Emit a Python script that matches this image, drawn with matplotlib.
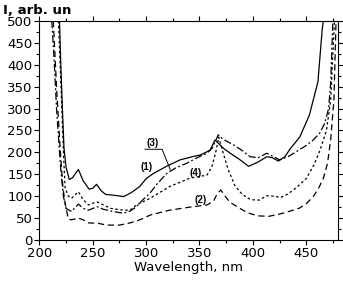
import numpy as np
import matplotlib.pyplot as plt

plt.rcParams['font.family'] = ['DejaVu Sans']

# (1) solid
wl_1 = [218.8, 220, 221.5, 223, 225, 228, 231, 236.5, 241, 246.5, 250, 253.5, 258, 262, 270, 279,
        286, 294, 300, 307, 319, 332, 345, 351, 360, 364.5, 368, 372.5, 380, 388, 396, 405, 413,
        418, 424, 430, 435, 444, 453, 461, 465, 467]
int_1 = [500, 400, 300, 210, 165, 138, 142, 161, 135, 116, 118, 127, 112, 104, 102, 99,
         108, 122, 140, 152, 168, 183, 191, 194, 205, 228, 220, 209, 196, 183, 168, 178, 190,
         188, 180, 190, 208, 235, 285, 361, 480, 520]

# (2) dashed
wl_2 = [213, 216, 219.5, 222, 224, 227, 230, 236.5, 241, 246, 255, 263, 275, 285, 294, 304, 322,
        341, 357, 363, 367, 370, 374, 378.5, 388, 395, 405, 415, 425, 435, 444, 451, 457, 462, 466,
        470, 473, 476, 478]
int_2 = [500, 350, 205, 120, 85, 48, 46, 50, 46, 39, 38, 34, 34, 39, 46, 57, 68,
         75, 80, 88, 107, 114, 100, 86, 72, 62, 55, 54, 59, 66, 73, 85, 100, 120, 140,
         175, 230, 320, 500]

# (3) dash-dot
wl_3 = [211.6, 214, 216, 218, 220, 222.5, 225, 230, 236.5, 241, 246, 250, 254, 260, 269, 278.7,
        285, 291, 297, 303.6, 311, 319.4, 328, 338, 348, 357, 362, 367.6, 372, 382, 390, 397.5,
        405, 410, 413, 418, 425, 433, 441, 449, 456.6, 463, 467.5, 471, 473, 475]
int_3 = [500, 400, 300, 230, 160, 99, 72, 65, 82, 72, 68, 72, 76, 70, 65, 61,
         66, 76, 92, 107, 130, 152, 165, 175, 188, 198, 210, 240, 230, 217, 204, 190,
         188, 194, 198, 192, 183, 190, 202, 214, 228, 245, 267, 300, 360, 500]

# (4) dotted
wl_4 = [217.8, 219.4, 221, 222.5, 224, 227, 230, 236.5, 241, 246, 250, 253.8, 260, 267, 278.7,
        285, 291, 303.6, 322, 341, 350, 357, 361.6, 365.7, 368, 372, 377, 383, 390, 398, 406,
        413, 420, 426, 433, 441, 450, 457, 463, 469, 473, 476.5]
int_4 = [500, 400, 300, 200, 120, 100, 95, 110, 92, 80, 84, 87, 80, 72, 68,
         68, 80, 95, 122, 141, 145, 148, 167, 205, 235, 200, 160, 125, 104, 92, 91,
         101, 100, 97, 105, 120, 140, 170, 205, 250, 320, 500]

x_ticks = [200, 250, 300, 350, 400, 450]
y_ticks = [0, 50, 100, 150, 200, 250, 300, 350, 400, 450, 500]

fig = plt.figure(figsize=(3.43, 2.82), dpi=100)
ax = fig.add_axes([0.115, 0.149, 0.871, 0.777])

ax.plot(wl_1, int_1, '-', color='black', lw=0.9)
ax.plot(wl_2, int_2, color='black', lw=0.9, dashes=(5, 3))
ax.plot(wl_3, int_3, color='black', lw=0.9, dashes=(6, 2, 1.5, 2))
ax.plot(wl_4, int_4, color='black', lw=0.9, dashes=(2, 2))

ax.set_xlim(200, 480)
ax.set_ylim(0, 500)
ax.xaxis.set_ticks(x_ticks)
ax.yaxis.set_ticks(y_ticks)
ax.set_xticks(np.arange(225, 480, 50), minor=True)
ax.set_yticks(np.arange(25, 500, 50), minor=True)
ax.tick_params(axis='both', which='major', labelsize=9.5, length=3.5, width=0.8,
               direction='out', top=True, right=True, pad=1.5)
ax.tick_params(axis='both', which='minor', length=2, width=0.8,
               direction='out', top=True, right=True)
for s in ax.spines.values():
    s.set_linewidth(0.8)

ax.set_xlabel('Wavelength, nm', fontsize=9.5, labelpad=1)
fig.text(0.01, 0.963, 'I, arb. un', fontsize=9.5, fontweight='bold',
         ha='left', va='center')

lab = dict(fontsize=7, fontweight='bold', ha='center', va='center', family='Liberation Sans')
ax.text(300.5, 167, '(1)', **lab)
ax.text(306, 222, '(3)', **lab)
ax.plot([299, 315, 322.5], [207, 207, 161], color='black', lw=0.7)
ax.text(346, 152, '(4)', **lab)
ax.text(350.6, 91, '(2)', **lab)

plt.savefig('out.png', dpi=100)
plt.close('all')
